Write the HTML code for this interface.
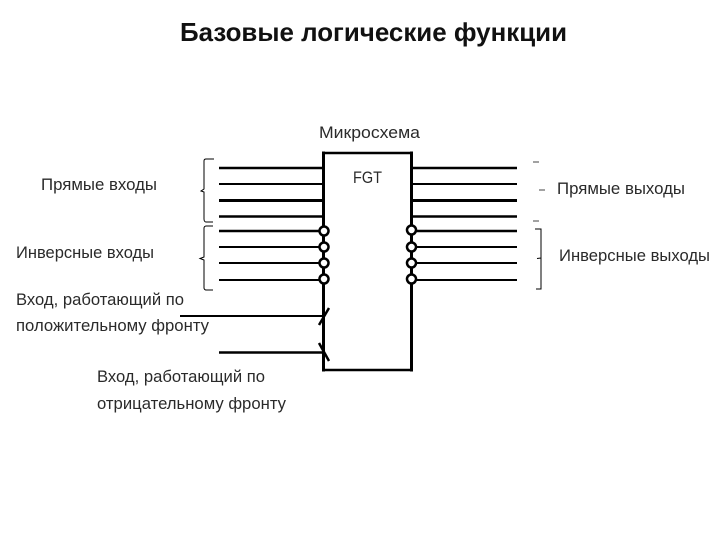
<!DOCTYPE html>
<html><head><meta charset="utf-8"><style>
html,body{margin:0;padding:0;background:#fff;width:720px;height:540px;overflow:hidden}
svg{display:block}
text{font-family:"Liberation Sans","DejaVu Sans",sans-serif;font-size:17px;fill:#2a2a2a}
</style></head><body>
<svg width="720" height="540" viewBox="0 0 720 540" xmlns="http://www.w3.org/2000/svg">
<rect width="720" height="540" fill="#fff"/>
<text x="180" y="41" textLength="387" lengthAdjust="spacingAndGlyphs" style="font-size:26px;font-weight:bold;fill:#111">Базовые логические функции</text>
<text x="319" y="138" textLength="101" lengthAdjust="spacingAndGlyphs">Микросхема</text>
<text x="353" y="183" textLength="29" lengthAdjust="spacingAndGlyphs">FGT</text>
<text x="41" y="190" textLength="116" lengthAdjust="spacingAndGlyphs">Прямые входы</text>
<text x="16" y="258" textLength="138" lengthAdjust="spacingAndGlyphs">Инверсные входы</text>
<text x="16" y="305" textLength="168" lengthAdjust="spacingAndGlyphs">Вход, работающий по</text>
<text x="16" y="331" textLength="193" lengthAdjust="spacingAndGlyphs">положительному фронту</text>
<text x="97" y="382" textLength="168" lengthAdjust="spacingAndGlyphs">Вход, работающий по</text>
<text x="97" y="409" textLength="189" lengthAdjust="spacingAndGlyphs">отрицательному фронту</text>
<text x="557" y="194" textLength="128" lengthAdjust="spacingAndGlyphs">Прямые выходы</text>
<text x="559" y="261" textLength="151" lengthAdjust="spacingAndGlyphs">Инверсные выходы</text>

<g stroke="#000" fill="none">
<path d="M323.500 370H411.500M323.500 153H411.500" stroke-width="2.500"/>
<path d="M323.500 151.500V371.500M411.500 151.500V371.500" stroke-width="3"/>
<g stroke-width="2">
<path d="M219 184H323M219 247H323M219 263H323M219 280H323M411 184H517M411 247H517M411 263H517M411 280H517M180 316H323"/>
</g>
<g stroke-width="2.600">
<path d="M219 168H323M219 216.500H323M219 231H323M219 352.500H323M411 168H517M411 216.500H517M411 231H517"/>
</g>
<path d="M219 200.500H323M411 200.500H517" stroke-width="3"/>
<path d="M329 308L319 325M319 343L329 361" stroke-width="2.500"/>
<g stroke-width="1">
<path d="M214 159H206C204.500 159 204 160 204 161V189L201 191L204 192V219C204 221 205 222 206 222H213"/>
<path d="M213 226H206C205 226 204 227 204 228V257L200 258.500L204 260V288C204 289 205 290 206 290H213"/>
<path d="M535 229H541V289H536M541 258L537 258.500"/>
<path d="M533 162H539M539 190H545M533 221H539" stroke="#444"/>
</g>
<g fill="#fff" stroke-width="2.500">
<circle cx="324" cy="231" r="4.500"/><circle cx="324" cy="247" r="4.500"/><circle cx="324" cy="263" r="4.500"/><circle cx="324" cy="279" r="4.500"/>
<circle cx="411.500" cy="230" r="4.500"/><circle cx="411.500" cy="247" r="4.500"/><circle cx="411.500" cy="263" r="4.500"/><circle cx="411.500" cy="279" r="4.500"/>
</g>
</g>
</svg>
</body></html>
